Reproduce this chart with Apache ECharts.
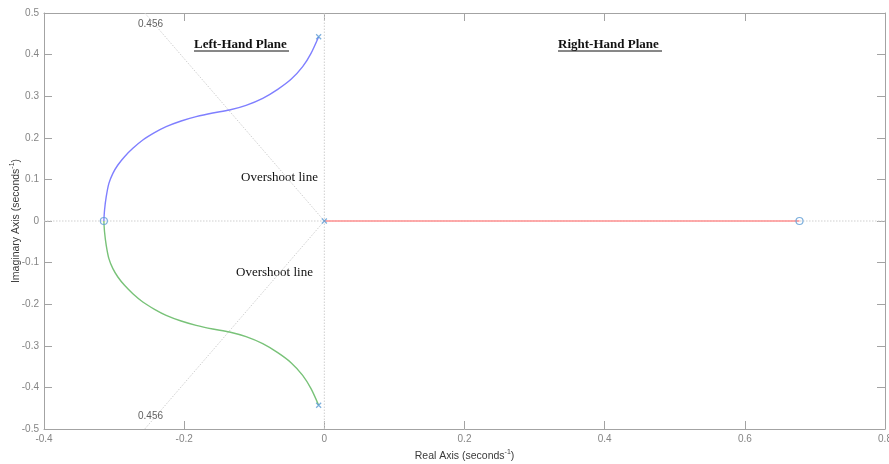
<!DOCTYPE html>
<html>
<head>
<meta charset="utf-8">
<script src="https://cdn.jsdelivr.net/npm/echarts@6/dist/echarts.min.js"></script>
<style>
  html, body { margin: 0; padding: 0; background: #ffffff; }
  #chart { width: 889px; height: 464px; }
</style>
</head>
<body>
<div id="chart"></div>
<script>
// Root locus branches (real / imaginary parts, seconds^-1)
const upperBranchReal = [-0.3146, -0.3136, -0.3112, -0.3074, -0.3017, -0.2946, -0.2851, -0.2732, -0.2590, -0.2423, -0.2257, -0.2043, -0.1829, -0.1592, -0.1354, -0.1117, -0.0879, -0.0665, -0.0475, -0.0309, -0.0190, -0.0081];
const upperBranchImag = [0, 0.0264, 0.0585, 0.0905, 0.1146, 0.1346, 0.1546, 0.1747, 0.1947, 0.2123, 0.2268, 0.2404, 0.2508, 0.2596, 0.2668, 0.2781, 0.2949, 0.3165, 0.3406, 0.3710, 0.4030, 0.4431];
const lowerBranchReal = [-0.3146, -0.3136, -0.3112, -0.3074, -0.3017, -0.2946, -0.2851, -0.2732, -0.2590, -0.2423, -0.2257, -0.2043, -0.1829, -0.1592, -0.1354, -0.1117, -0.0879, -0.0665, -0.0475, -0.0309, -0.0190, -0.0081];
const lowerBranchImag = [0, -0.0264, -0.0585, -0.0905, -0.1146, -0.1346, -0.1546, -0.1747, -0.1947, -0.2123, -0.2268, -0.2404, -0.2508, -0.2596, -0.2668, -0.2781, -0.2949, -0.3165, -0.3406, -0.3710, -0.4030, -0.4431];
const realBranchReal = [0, 0.678];
const realBranchImag = [0, 0];

// Open-loop poles and zeros
const poleReal = [-0.0081, -0.0081, 0];
const poleImag = [0.443, -0.443, 0];
const zeroReal = [-0.3146, 0.678];
const zeroImag = [0, 0];

// Constant damping ratio grid line
const dampingRatio = 0.456;

// Axis ranges and tick spacing
const xMin = -0.4, xMax = 0.8, xStep = 0.2;
const yMin = -0.5, yMax = 0.5, yStep = 0.1;

const zip = (xs, ys) => xs.map((x, i) => [x, ys[i]]);

// Overshoot (damping) lines run from the origin to the top/bottom of the view
const dampSlope = Math.sqrt(1 - dampingRatio * dampingRatio) / dampingRatio;
const dampUpper = [[0, 0], [-yMax / dampSlope, yMax]];
const dampLower = [[0, 0], [yMin / dampSlope, yMin]];

const AXIS_GRAY = '#a3a3a3';
const LABEL_GRAY = '#858585';
const GRID_DOT = '#cfcfcf';
const MARK_BLUE = '#5b9bd5';

const chart = echarts.init(document.getElementById('chart'), null, { renderer: 'canvas' });

const baseAxis = {
  type: 'value',
  axisLine: { show: true, onZero: false, lineStyle: { color: AXIS_GRAY, width: 1 } },
  axisTick: { show: true, inside: true, length: 8, lineStyle: { color: AXIS_GRAY } },
  splitLine: { show: false },
  axisLabel: { color: LABEL_GRAY, fontFamily: 'Liberation Sans, Arial, sans-serif', fontSize: 10 }
};

const supRich = {
  a: { fontFamily: 'Liberation Sans, Arial, sans-serif', fontSize: 10.5, color: '#3a3a3a' },
  s: { fontFamily: 'Liberation Sans, Arial, sans-serif', fontSize: 7, color: '#3a3a3a', padding: [0, 0, 7, 0] }
};

const option = {
  animation: false,
  backgroundColor: '#ffffff',
  grid: { left: 44, right: 4, top: 13, bottom: 35, containLabel: false, outerBoundsMode: 'none' },
  xAxis: [
    Object.assign({}, baseAxis, {
      position: 'bottom', min: xMin, max: xMax, interval: xStep,
      axisLabel: Object.assign({}, baseAxis.axisLabel, { margin: 5 }),
      name: '{a|Real Axis (seconds}{s|-1}{a|)}',
      nameLocation: 'middle', nameGap: 20,
      nameTextStyle: { rich: supRich }
    }),
    Object.assign({}, baseAxis, {
      position: 'top', min: xMin, max: xMax, interval: xStep,
      axisLabel: { show: false }
    })
  ],
  yAxis: [
    Object.assign({}, baseAxis, {
      position: 'left', min: yMin, max: yMax, interval: yStep,
      axisLabel: Object.assign({}, baseAxis.axisLabel, { margin: 5 }),
      name: '{a|Imaginary Axis (seconds}{s|-1}{a|)}',
      nameLocation: 'middle', nameGap: 21, nameRotate: 90, nameMoveOverlap: false,
      nameTextStyle: { rich: supRich }
    }),
    Object.assign({}, baseAxis, {
      position: 'right', min: yMin, max: yMax, interval: yStep,
      axisLabel: { show: false }
    })
  ],
  series: [
    // s-plane axes (dotted)
    {
      type: 'line', data: [[xMin, 0], [xMax, 0]], symbol: 'none', silent: true, z: 1,
      lineStyle: { color: GRID_DOT, width: 1, type: [1.5, 1.5] }
    },
    {
      type: 'line', data: [[0, yMin], [0, yMax]], symbol: 'none', silent: true, z: 1,
      lineStyle: { color: GRID_DOT, width: 1, type: [1.5, 1.5] }
    },
    // damping ratio lines
    {
      type: 'line', data: dampUpper, symbol: 'none', silent: true, z: 1,
      lineStyle: { color: GRID_DOT, width: 1, type: [1.5, 1.5] }
    },
    {
      type: 'line', data: dampLower, symbol: 'none', silent: true, z: 1,
      lineStyle: { color: GRID_DOT, width: 1, type: [1.5, 1.5] }
    },
    // locus branches
    {
      name: 'branch1', type: 'line', data: zip(upperBranchReal, upperBranchImag),
      symbol: 'none', smooth: 0.3, z: 3,
      lineStyle: { color: '#7f7fff', width: 1.4 }
    },
    {
      name: 'branch2', type: 'line', data: zip(lowerBranchReal, lowerBranchImag),
      symbol: 'none', smooth: 0.3, z: 3,
      lineStyle: { color: '#78c278', width: 1.4 }
    },
    {
      name: 'branch3', type: 'line', data: zip(realBranchReal, realBranchImag),
      symbol: 'none', z: 3,
      lineStyle: { color: '#ff9191', width: 1.4 }
    },
    // poles
    {
      name: 'poles', type: 'scatter', data: zip(poleReal, poleImag), z: 5,
      symbol: 'path://M0,0L10,10M10,0L0,10', symbolSize: 5,
      itemStyle: { color: 'rgba(0,0,0,0)', borderColor: MARK_BLUE, borderWidth: 1.2 }
    },
    // zeros
    {
      name: 'zeros', type: 'scatter', data: zip(zeroReal, zeroImag), z: 5,
      symbol: 'circle', symbolSize: 7,
      itemStyle: { color: 'rgba(0,0,0,0)', borderColor: MARK_BLUE, borderWidth: 1.2 }
    }
  ],
  graphic: [
    { type: 'text', left: 138, top: 19, style: { text: dampingRatio.toFixed(3), font: '10px "Liberation Sans", Arial, sans-serif', fill: '#5f5f5f' } },
    { type: 'text', left: 138, top: 411, style: { text: dampingRatio.toFixed(3), font: '10px "Liberation Sans", Arial, sans-serif', fill: '#5f5f5f' } },
    { type: 'text', left: 194, top: 38, style: { text: 'Left-Hand Plane', font: 'bold 13px "Liberation Serif", "Times New Roman", serif', fill: '#111111' } },
    { type: 'line', shape: { x1: 194, y1: 51, x2: 289, y2: 51 }, style: { stroke: '#111111', lineWidth: 1 } },
    { type: 'text', left: 558, top: 38, style: { text: 'Right-Hand Plane', font: 'bold 13px "Liberation Serif", "Times New Roman", serif', fill: '#111111' } },
    { type: 'line', shape: { x1: 558, y1: 51, x2: 662, y2: 51 }, style: { stroke: '#111111', lineWidth: 1 } },
    { type: 'text', left: 241, top: 171, style: { text: 'Overshoot line', font: '13px "Liberation Serif", "Times New Roman", serif', fill: '#111111' } },
    { type: 'text', left: 236, top: 266, style: { text: 'Overshoot line', font: '13px "Liberation Serif", "Times New Roman", serif', fill: '#111111' } }
  ]
};

chart.setOption(option);
</script>
</body>
</html>
